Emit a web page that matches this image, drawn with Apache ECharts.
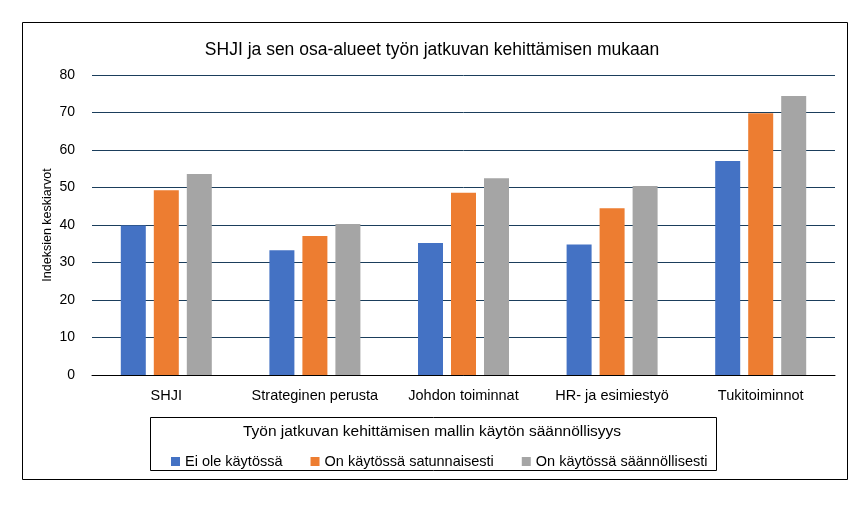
<!DOCTYPE html>
<html>
<head>
<meta charset="utf-8">
<script src="https://cdn.jsdelivr.net/npm/echarts@6/dist/echarts.min.js"></script>
<style>
  html, body { margin: 0; padding: 0; background: #fff; }
  #charts { width: 864px; height: 505px; }
</style>
</head>
<body>
<div id="charts"></div>
<script>
const categories = ['SHJI', 'Strateginen perusta', 'Johdon toiminnat', 'HR- ja esimiestyö', 'Tukitoiminnot'];
const eiKaytossa = [39.9, 33.3, 35.2, 34.8, 57.1];
const satunnaisesti = [49.3, 37.1, 48.6, 44.5, 69.8];
const saannollisesti = [53.6, 40.3, 52.5, 50.4, 74.4];
const yTicks = { min: 0, max: 80, interval: 10 };

const font = 'Liberation Sans';

const option = {
    animation: false,
    backgroundColor: '#fff',
    title: {
        text: 'SHJI ja sen osa-alueet työn jatkuvan kehittämisen mukaan',
        left: 'center',
        top: 36,
        textStyle: { fontFamily: font, fontSize: 17.5, fontWeight: 'normal', color: '#000' }
    },
    graphic: [
        { // ulkoreunus
            type: 'rect',
            shape: { x: 22.5, y: 22.5, width: 825, height: 457 },
            style: { fill: 'none', stroke: '#000', lineWidth: 1 }
        },
        { // selitteen laatikko
            type: 'rect',
            shape: { x: 150.5, y: 417.5, width: 566, height: 53 },
            style: { fill: 'none', stroke: '#000', lineWidth: 1 }
        },
        {
            type: 'text',
            x: 432,
            y: 424,
            style: {
                text: 'Työn jatkuvan kehittämisen mallin käytön säännöllisyys',
                font: '15.5px "Liberation Sans"',
                fill: '#000',
                align: 'center'
            }
        }
    ],
    legend: {
        top: 449,
        left: 166,
        icon: 'rect',
        itemWidth: 9,
        itemHeight: 9,
        itemGap: 28,
        textStyle: { fontFamily: font, fontSize: 14.5, color: '#000' },
        data: ['Ei ole käytössä', 'On käytössä satunnaisesti', 'On käytössä säännöllisesti']
    },
    grid: { left: 92, right: 29, top: 75, bottom: 130 },
    xAxis: {
        type: 'category',
        data: categories,
        axisLine: { lineStyle: { color: '#000', width: 1 } },
        axisTick: { show: false },
        axisLabel: { interval: 0, margin: 13, color: '#000', fontFamily: font, fontSize: 14.5 }
    },
    yAxis: {
        type: 'value',
        min: yTicks.min,
        max: yTicks.max,
        interval: yTicks.interval,
        name: 'Indeksien keskiarvot',
        nameLocation: 'middle',
        nameGap: 38,
        nameMoveOverlap: false,
        nameTextStyle: { fontFamily: font, fontSize: 12.5, color: '#000' },
        axisLine: { show: false },
        axisTick: { show: false },
        axisLabel: { margin: 17, color: '#000', fontFamily: font, fontSize: 14 },
        splitLine: { lineStyle: { color: '#1b3e5c', width: 1 } }
    },
    series: [
        {
            name: 'Ei ole käytössä',
            type: 'bar',
            data: eiKaytossa,
            barWidth: 25,
            barGap: '32%',
            itemStyle: { color: '#4472C4' }
        },
        {
            name: 'On käytössä satunnaisesti',
            type: 'bar',
            data: satunnaisesti,
            barWidth: 25,
            barGap: '32%',
            itemStyle: { color: '#ED7D31' }
        },
        {
            name: 'On käytössä säännöllisesti',
            type: 'bar',
            data: saannollisesti,
            barWidth: 25,
            barGap: '32%',
            itemStyle: { color: '#A5A5A5' }
        }
    ]
};

const chart = echarts.init(document.getElementById('charts'));
chart.setOption(option);
</script>
</body>
</html>
